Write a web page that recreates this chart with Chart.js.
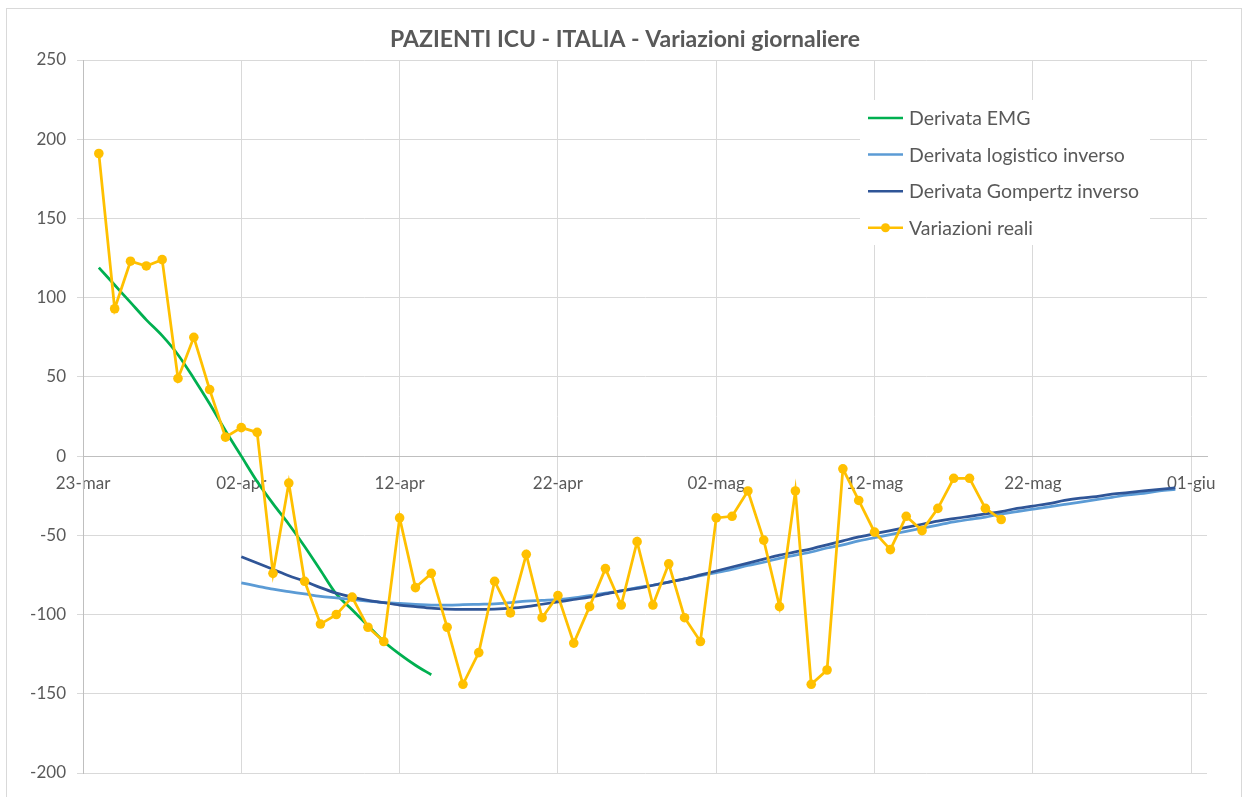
<!DOCTYPE html>
<html>
<head>
<meta charset="utf-8">
<script src="https://cdn.jsdelivr.net/npm/chart.js@4.4.1/dist/chart.umd.min.js"></script>
<style>
  body { margin: 0; background: #fff; }
  canvas { display: block; }
</style>
</head>
<body>
<canvas id="icuChart" width="1245" height="797"></canvas>
<script>
// tick labels on the date axis (one every 10 days, day 0 = 23-mar)
const dateTicks = ["23-mar", "02-apr", "12-apr", "22-apr", "02-mag", "12-mag", "22-mag", "01-giu"];

// first day index of each series
const realStart = 1;
const emgStart = 1;
const fitStart = 10;

// Variazioni reali (24-mar .. 20-mag)
const realValues = [
  191, 93, 123, 120, 124, 49, 75, 42, 12, 18,
  15, -74, -17, -79, -106, -100, -89, -108, -117, -39,
  -83, -74, -108, -144, -124, -79, -99, -62, -102, -88,
  -118, -95, -71, -94, -54, -94, -68, -102, -117, -39,
  -38, -22, -53, -95, -22, -144, -135, -8, -28, -48,
  -59, -38, -47, -33, -14, -14, -33, -40
];

// Derivata EMG (24-mar .. 14-apr)
const emgValues = [
  119, 108, 97, 86, 76, 64, 49, 33, 16, 0,
  -16, -30, -43, -57, -72, -87, -97, -107, -117, -125,
  -132, -138
];

// Derivata logistico inverso (02-apr .. 31-mag)
const logisticValues = [
  -80, -82, -84, -85.5, -87, -88.5, -89.5, -90.5, -91.5, -92.5,
  -93, -93.5, -94, -94, -93.8, -93.5, -93.2, -92.5, -91.5, -91,
  -90.5, -89.5, -88, -86.5, -85, -83, -81.5, -79.5, -77.5, -75.5,
  -73.5, -71.5, -69, -67, -64.5, -62.5, -60.5, -58, -56, -53.5,
  -51.5, -49.5, -47.5, -45.5, -43.5, -41.5, -40, -38.5, -36.5, -35,
  -33.5, -32, -30.5, -29, -27.5, -26, -24.5, -23.5, -22, -21
];

// Derivata Gompertz inverso (02-apr .. 31-mag)
const gompertzValues = [
  -63.5, -67.5, -71.5, -75.5, -79, -83, -86.5, -89, -91, -92.5,
  -94, -95, -96, -96.5, -96.7, -96.7, -96.5, -96, -95, -93.5,
  -92, -90.5, -89, -87, -85, -83.5, -81.5, -79.5, -77.5, -75,
  -72.5, -70, -67.5, -65, -62.5, -60.5, -58.5, -56, -53.5, -51,
  -49, -47, -45, -43, -41, -39.5, -38, -36.5, -35, -33,
  -31.5, -30, -28, -26.5, -25.5, -24, -23, -22, -21, -20
];

const chartTitle = "PAZIENTI ICU - ITALIA - Variazioni giornaliere";

const toPoints = (start, values) => values.map((v, i) => ({ x: start + i, y: v }));

const textColor = "#595959";
const gridColor = "#D9D9D9";

const series = [
  { label: "Derivata EMG", color: "#00B050", marker: false },
  { label: "Derivata logistico inverso", color: "#5B9BD5", marker: false },
  { label: "Derivata Gompertz inverso", color: "#2F5597", marker: false },
  { label: "Variazioni reali", color: "#FFC000", marker: true }
];

// legend box drawn inside the plot, like the Excel original
const insideLegend = {
  id: "insideLegend",
  afterDraw(chart) {
    const ctx = chart.ctx;
    ctx.save();
    ctx.fillStyle = "#fff";
    ctx.fillRect(860, 100, 290, 145);
    ctx.font = "19.5px Lato";
    ctx.textBaseline = "middle";
    series.forEach((s, i) => {
      const y = 118 + i * 36.6;
      ctx.strokeStyle = s.color;
      ctx.lineWidth = 2.5;
      ctx.beginPath();
      ctx.moveTo(868, y);
      ctx.lineTo(903, y);
      ctx.stroke();
      if (s.marker) {
        ctx.fillStyle = s.color;
        ctx.beginPath();
        ctx.arc(885.5, y, 4.5, 0, Math.PI * 2);
        ctx.fill();
      }
      ctx.fillStyle = textColor;
      ctx.fillText(s.label, 909, y + 1);
    });
    ctx.restore();
  }
};

// frame round the whole chart and the centred title
const frame = {
  id: "frame",
  beforeDraw(chart) {
    const ctx = chart.ctx;
    ctx.save();
    ctx.fillStyle = "#fff";
    ctx.fillRect(0, 0, chart.width, chart.height);
    ctx.strokeStyle = "#D9D9D9";
    ctx.lineWidth = 1;
    ctx.strokeRect(6.5, 8.5, 1235, 800);
    ctx.fillStyle = textColor;
    ctx.font = "bold 23px Lato";
    ctx.textAlign = "center";
    ctx.textBaseline = "middle";
    ctx.fillText(chartTitle, 625, 40);
    ctx.restore();
  }
};

new Chart(document.getElementById("icuChart"), {
  type: "line",
  data: {
    datasets: [
      {
        label: series[3].label,
        data: toPoints(realStart, realValues),
        borderColor: series[3].color,
        backgroundColor: series[3].color,
        borderWidth: 2.75,
        pointRadius: 4.8,
        pointBorderWidth: 0,
        tension: 0,
        order: 0
      },
      {
        label: series[2].label,
        data: toPoints(fitStart, gompertzValues),
        borderColor: series[2].color,
        borderWidth: 2.75,
        pointRadius: 0,
        cubicInterpolationMode: "monotone",
        order: 1
      },
      {
        label: series[1].label,
        data: toPoints(fitStart, logisticValues),
        borderColor: series[1].color,
        borderWidth: 2.75,
        pointRadius: 0,
        cubicInterpolationMode: "monotone",
        order: 2
      },
      {
        label: series[0].label,
        data: toPoints(emgStart, emgValues),
        borderColor: series[0].color,
        borderWidth: 2.75,
        pointRadius: 0,
        cubicInterpolationMode: "monotone",
        order: 3
      }
    ]
  },
  options: {
    responsive: false,
    animation: false,
    devicePixelRatio: 1,
    layout: { padding: { left: 0, right: 38, top: 60, bottom: 24 } },
    plugins: {
      legend: { display: false },
      tooltip: { enabled: false },
      title: { display: false }
    },
    scales: {
      x: {
        type: "linear",
        position: { y: 0 },
        min: 0,
        max: 71,
        grid: { color: gridColor, drawTicks: false },
        border: { color: "#BFBFBF" },
        ticks: {
          stepSize: 10,
          includeBounds: false,
          padding: 17,
          maxRotation: 0,
          color: textColor,
          font: { family: "Lato", size: 17 },
          callback: (v) => dateTicks[v / 10]
        }
      },
      y: {
        min: -200,
        max: 250,
        grid: { color: gridColor, tickLength: 6 },
        border: { color: "#BFBFBF" },
        ticks: {
          stepSize: 50,
          padding: 11,
          color: textColor,
          font: { family: "Lato", size: 17 }
        },
        afterFit: (s) => { s.width = 83; }
      }
    }
  },
  plugins: [frame, insideLegend]
});
</script>
</body>
</html>
